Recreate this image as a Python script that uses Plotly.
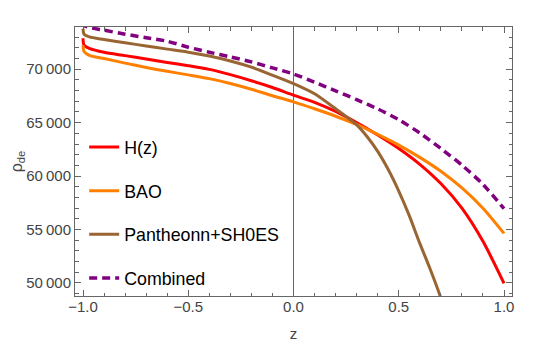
import plotly.graph_objects as go

# redshift grid shared by H(z), BAO and Combined
z = [-1.0, -0.995, -0.97, -0.9, -0.8, -0.7, -0.6, -0.5, -0.4, -0.3, -0.2, -0.1,
     0.0, 0.1, 0.2, 0.3, 0.4, 0.5, 0.6, 0.7, 0.8, 0.9, 1.0]
# Pantheon curve drops fast, so it gets a finer grid past z = 0.3
z_pan = [-1.0, -0.995, -0.97, -0.9, -0.8, -0.7, -0.6, -0.5, -0.4, -0.3, -0.2, -0.1,
         0.0, 0.1, 0.2, 0.3, 0.35, 0.4, 0.45, 0.5, 0.55, 0.6, 0.65, 0.7, 0.75]

rho_hz = [72900, 72250, 71950, 71580, 71270, 70950, 70630, 70330, 69985, 69490, 68920, 68290,
          67570, 66900, 66050, 65000, 63850, 62580, 61100, 59300, 57000, 53900, 49970]
rho_bao = [72240, 71650, 71300, 71000, 70570, 70160, 69800, 69470, 69120, 68670, 68130, 67520,
           66950, 66300, 65600, 64830, 63900, 62900, 61750, 60450, 58900, 57000, 54640]
rho_pan = [73800, 73270, 73020, 72780, 72470, 72180, 71880, 71590, 71230, 70770, 70190, 69440,
           68650, 67700, 66300, 64790, 63680, 62310, 60610, 58600, 56300, 53700, 51260, 48590, 45300]
rho_comb = [74500, 74100, 73900, 73650, 73280, 72950, 72620, 72060, 71590, 71150, 70690, 70120,
            69560, 68780, 67980, 67150, 66290, 65280, 64030, 62580, 61030, 59230, 56950]

y_ticks = [50000, 55000, 60000, 65000, 70000]
y_labels = ["50\u2009000", "55\u2009000", "60\u2009000", "65\u2009000", "70\u2009000"]
x_ticks = [-1.0, -0.5, 0.0, 0.5, 1.0]
x_labels = ["\u22121.0", "\u22120.5", "0.0", "0.5", "1.0"]

FONT = "Liberation Sans, Arial, sans-serif"
GRAY = "#666666"

fig = go.Figure()
series = [
    ("H(z)", z, rho_hz, "#ff0000", None),
    ("BAO", z, rho_bao, "#ff8000", None),
    ("Pantheonn+SH0ES", z_pan, rho_pan, "#996633", None),
    ("Combined", z, rho_comb, "#800080", "8px,5px"),
]
for name, xs, ys, color, dash in series:
    fig.add_trace(go.Scatter(
        x=xs, y=ys, mode="lines", name=name, legendgroup=name,
        line=dict(color=color, width=3.5 if dash else 3, dash=dash, shape="spline", smoothing=0.7),
    ))

axis_common = dict(
    showline=True, mirror="ticks", linecolor=GRAY, linewidth=1,
    ticks="inside", ticklen=6, tickcolor=GRAY, tickwidth=1,
    showgrid=False, tickfont=dict(family=FONT, size=15, color="#444444"),
)

fig.update_xaxes(
    range=[-1.038, 1.038], tickvals=x_ticks, ticktext=x_labels,
    minor=dict(ticks="inside", ticklen=3.5, dtick=0.1, tick0=0, tickcolor=GRAY),
    zeroline=True, zerolinecolor=GRAY, zerolinewidth=1,
    ticklabelstandoff=-3,
    title=dict(text="z", font=dict(family=FONT, size=15, color="#444444"), standoff=14),
    **axis_common,
)
fig.update_yaxes(
    range=[48780, 73950], tickvals=y_ticks, ticktext=y_labels,
    minor=dict(ticks="inside", ticklen=3.5, dtick=1000, tick0=0, tickcolor=GRAY),
    zeroline=False,
    title=dict(text="\u03c1<sub>de</sub>", font=dict(family=FONT, size=16, color="#444444"), standoff=16),
    **axis_common,
)

# page body has an 8px margin, so the figure is 8px smaller than the window
fig.update_layout(
    width=532, height=338,
    margin=dict(l=67, r=28, t=19, b=50, autoexpand=False),
    plot_bgcolor="white", paper_bgcolor="white",
    font=dict(family=FONT, color="black"),
    legend=dict(
        x=0.021, y=0.621, xanchor="left", yanchor="top",
        font=dict(family=FONT, size=17.8, color="black"),
        bgcolor="rgba(0,0,0,0)", tracegroupgap=17.5, itemwidth=30,
    ),
)

fig.write_html("out.html")
